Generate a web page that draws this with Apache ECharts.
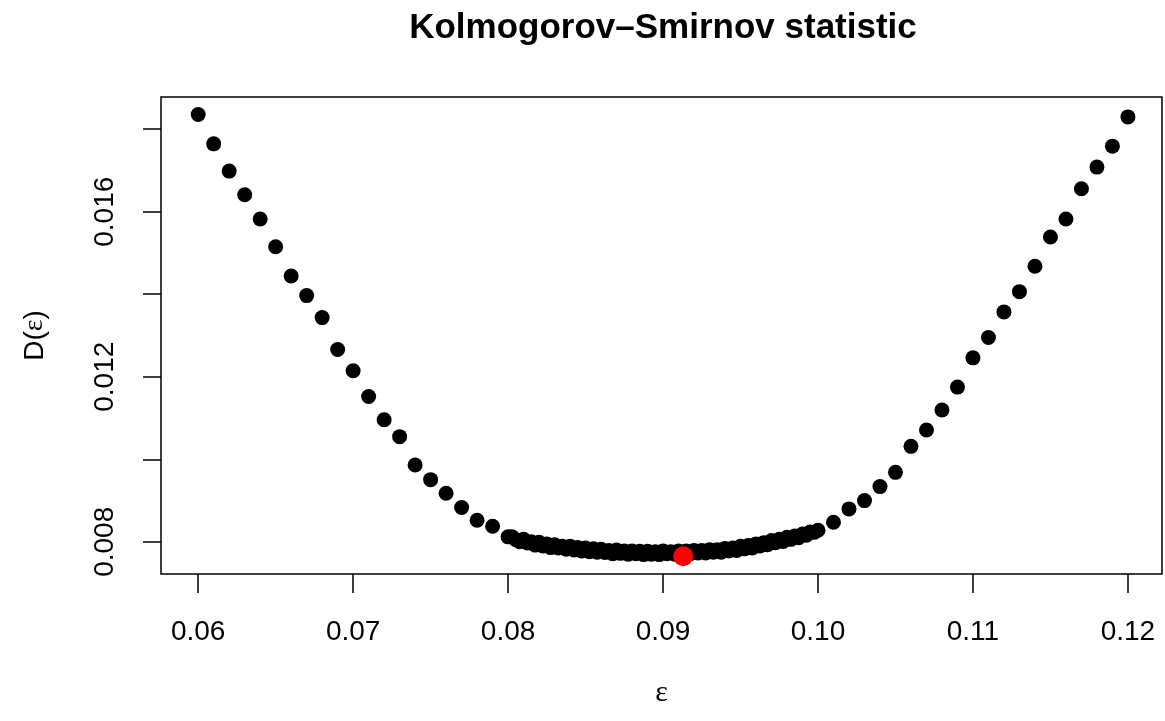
<!DOCTYPE html>
<html>
<head>
<meta charset="utf-8">
<title>Kolmogorov-Smirnov statistic</title>
<script src="https://cdn.jsdelivr.net/npm/echarts@6/dist/echarts.min.js"></script>
<style>
html, body { margin: 0; padding: 0; background: #fff; }
#ks { width: 1165px; height: 721px; }
</style>
</head>
<body>
<div id="ks"></div>
<script>
// epsilon grid and D(eps)
var epsLeft = [
    0.060, 0.061, 0.062, 0.063, 0.064, 0.065, 0.066, 0.067, 0.068, 0.069,
    0.070, 0.071, 0.072, 0.073, 0.074, 0.075, 0.076, 0.077, 0.078, 0.079
];
var dLeft = [
    0.018356, 0.017644, 0.016984, 0.016410, 0.015822, 0.015152, 0.014443, 0.013967, 0.013434, 0.012660,
    0.012145, 0.011523, 0.010959, 0.010548, 0.009863, 0.009507, 0.009176, 0.008830, 0.008523, 0.008377
];
// fine grid around the minimum
var epsMid = [
    0.08000, 0.08025, 0.08050, 0.08075, 0.08100, 0.08125, 0.08150, 0.08175, 0.08200, 0.08225,
    0.08250, 0.08275, 0.08300, 0.08325, 0.08350, 0.08375, 0.08400, 0.08425, 0.08450, 0.08475,
    0.08500, 0.08525, 0.08550, 0.08575, 0.08600, 0.08625, 0.08650, 0.08675, 0.08700, 0.08725,
    0.08750, 0.08775, 0.08800, 0.08825, 0.08850, 0.08875, 0.08900, 0.08925, 0.08950, 0.08975,
    0.09000, 0.09025, 0.09050, 0.09075, 0.09100, 0.09125, 0.09150, 0.09175, 0.09200, 0.09225,
    0.09250, 0.09275, 0.09300, 0.09325, 0.09350, 0.09375, 0.09400, 0.09425, 0.09450, 0.09475,
    0.09500, 0.09525, 0.09550, 0.09575, 0.09600, 0.09625, 0.09650, 0.09675, 0.09700, 0.09725,
    0.09750, 0.09775, 0.09800, 0.09825, 0.09850, 0.09875, 0.09900, 0.09925, 0.09950, 0.09975,
    0.10000
];
var dMid = [
    0.00812, 0.00812, 0.00805, 0.00800, 0.00806, 0.00797, 0.00800, 0.00792, 0.00799, 0.00790,
    0.00795, 0.00786, 0.00793, 0.00785, 0.00789, 0.00782, 0.00789, 0.00780, 0.00786, 0.00778,
    0.00785, 0.00776, 0.00783, 0.00775, 0.00782, 0.00774, 0.00779, 0.00771, 0.00780, 0.00772,
    0.00778, 0.00770, 0.00778, 0.00771, 0.00777, 0.00769, 0.00777, 0.00770, 0.00776, 0.00769,
    0.00778, 0.00771, 0.00776, 0.00770, 0.00778, 0.00772, 0.00778, 0.00771, 0.00779, 0.00773,
    0.00779, 0.00773, 0.00781, 0.00775, 0.00781, 0.00775, 0.00784, 0.00778, 0.00785, 0.00779,
    0.00789, 0.00783, 0.00791, 0.00785, 0.00795, 0.00790, 0.00798, 0.00793, 0.00803, 0.00798,
    0.00806, 0.00801, 0.00811, 0.00806, 0.00814, 0.00810, 0.00819, 0.00816, 0.00824, 0.00823,
    0.00828
];
var epsRight = [
    0.101, 0.102, 0.103, 0.104, 0.105, 0.106, 0.107, 0.108, 0.109, 0.110,
    0.111, 0.112, 0.113, 0.114, 0.115, 0.116, 0.117, 0.118, 0.119, 0.120
];
var dRight = [
    0.008474, 0.008798, 0.008999, 0.009338, 0.009684, 0.010313, 0.010710, 0.011194, 0.011750, 0.012459,
    0.012950, 0.013572, 0.014063, 0.014678, 0.015387, 0.015822, 0.016556, 0.017081, 0.017589, 0.018298
];
// minimum (red)
var epsBest = [0.0913];
var dBest = [0.00765];

var xTicks = [0.06, 0.07, 0.08, 0.09, 0.10, 0.11, 0.12];
var yTicks = [0.008, 0.010, 0.012, 0.014, 0.016, 0.018];
var yLabels = [0.008, 0.012, 0.016];

function pairs(xs, ys) {
    var out = [];
    for (var i = 0; i < xs.length; i++) out.push([xs[i], ys[i]]);
    return out;
}

var myChart = echarts.init(document.getElementById("ks"));
var font = "'Liberation Sans', Arial, Helvetica, sans-serif";
var serif = "'Liberation Serif', 'DejaVu Serif', serif";
var option = {
    backgroundColor: "#fff",
    animation: false,
    title: {
        text: "Kolmogorov\u2013Smirnov statistic",
        left: 658,
        top: 6,
        textAlign: "center",
        textStyle: { fontFamily: font, fontSize: 35, fontWeight: "bold", color: "#000" },
    },
    grid: {
        left: 161,
        right: 3,
        top: 97,
        bottom: 147,
        show: true,
        borderColor: "#000",
        borderWidth: 1.5,
        outerBoundsMode: "none",
    },
    xAxis: {
        type: "value",
        min: 0.0576,
        max: 0.1222,
        splitLine: { show: false },
        axisLine: { show: false },
        axisTick: {
            show: true,
            customValues: xTicks,
            length: 19,
            lineStyle: { color: "#000", width: 1.5 },
        },
        axisLabel: {
            customValues: xTicks,
            margin: 44,
            color: "#000",
            fontSize: 28,
            fontFamily: font,
            formatter: function (v) { return v.toFixed(2); },
        },
        name: "\u03b5",
        nameLocation: "middle",
        nameGap: 104,
        nameTextStyle: { color: "#000", fontSize: 30, fontFamily: serif },
    },
    yAxis: {
        type: "value",
        min: 0.00722,
        max: 0.01878,
        splitLine: { show: false },
        axisLine: { show: false },
        axisTick: {
            show: true,
            customValues: yTicks,
            length: 18,
            lineStyle: { color: "#000", width: 1.5 },
        },
        axisLabel: {
            customValues: yLabels,
            rotate: 90,
            margin: 42,
            color: "#000",
            fontSize: 28,
            fontFamily: font,
            formatter: function (v) { return v.toFixed(3); },
        },
        name: "D({e|\u03b5})",
        nameLocation: "middle",
        nameRotate: 90,
        nameGap: 112,
        nameTextStyle: {
            color: "#000",
            fontSize: 28,
            fontFamily: font,
            rich: { e: { fontSize: 28, color: "#000", fontFamily: serif } },
        },
    },
    series: [
        {
            type: "scatter",
            symbol: "circle",
            symbolSize: 15,
            itemStyle: { color: "#000", opacity: 1 },
            data: pairs(epsLeft, dLeft).concat(pairs(epsMid, dMid), pairs(epsRight, dRight)),
        },
        {
            type: "scatter",
            symbol: "circle",
            symbolSize: 20,
            itemStyle: { color: "#ff0000", opacity: 1 },
            data: pairs(epsBest, dBest),
        },
    ],
};
myChart.setOption(option);
window.addEventListener("resize", function () {
    myChart.resize();
});
</script>
</body>
</html>
